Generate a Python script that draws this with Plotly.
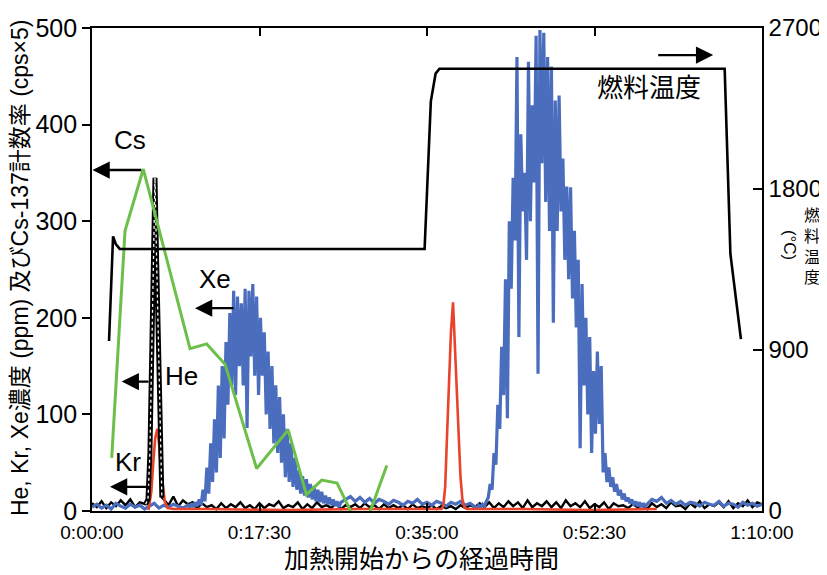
import plotly.graph_objects as go

# ---------------- data ----------------
X_TICK_VALS = [0, 17.5, 35, 52.5, 70]          # minutes
X_TICK_TEXT = ["0:00:00", "0:17:30", "0:35:00", "0:52:30", "1:10:00"]
LEFT_TICKS = [0, 100, 200, 300, 400, 500]
RIGHT_TICKS = [0, 900, 1800, 2700]

# fuel temperature (deg C, right axis)
TEMP_T = [1.78, 2.2, 2.5, 2.9, 34.75, 35.4, 35.9, 36.3, 66.1, 66.7, 67.8]
TEMP_V = [950, 1535, 1490, 1465, 1465, 2290, 2445, 2472, 2472, 1437, 961]

# Cs-137 count rate (cps x 5)
CS_T = [2.06, 3.45, 5.36, 10.24, 11.98, 13.9, 17.2, 20.5, 22.4, 24.0, 25.6, 28.2, 30.8]
CS_V = [55, 290, 354, 168, 173, 152, 44, 84, 17, 32, 29, -24, 47]

# Kr concentration (ppm)
KR_T = [5.9, 6.2, 6.4, 6.6, 6.82, 7.0, 7.2, 7.4, 7.6, 7.9, 8.5, 12.0, 20.0, 28.0, 36.5,
        36.7, 36.9, 37.1, 37.3, 37.5, 37.72, 37.9, 38.1, 38.3, 38.5, 38.7, 38.9, 39.2,
        45.0, 52.0, 59.0]
KR_V = [1, 20, 50, 75, 85, 70, 45, 25, 10, 3, 2, 2, 1, 2, 2,
        5, 25, 80, 140, 185, 216, 175, 125, 75, 35, 12, 4, 2,
        2, 1, 2]

# He concentration (ppm): baseline before peak (0.0-5.5 min, every 0.5 min)
HE_BASE_A = [8, 4, 10, 3, 9, 5, 11, 6, 12, 4, 9, 7]
HE_PEAK_T = [5.6, 5.85, 6.05, 6.25, 6.45, 6.58, 6.75, 6.95, 7.1, 7.3]
HE_PEAK_V = [7, 12, 60, 180, 300, 345, 260, 160, 93, 14]
# baseline after peak (7.5-70.0 min, every 0.5 min)
HE_BASE_B = [12, 6, 15, 5, 11, 7, 9, 3, 8, 4,
             6, 2, 8, 3, 7, 4, 9, 3, 6, 2,
             8, 3, 7, 5, 10, 3, 6, 4, 9, 2,
             7, 3, 9, 4, 6, 3, 8, 2, 6, 4,
             7, 3, 8, 4, 6, 2, 7, 3, 6, 3,
             6, 2, 7, 3, 5, 3, 6, 2, 5, 3,
             5, 2, 6, 3, 6, 4, 8, 4, 9, 3,
             8, 4, 10, 5, 9, 3, 11, 4, 8, 5,
             10, 4, 9, 3, 11, 5, 8, 4, 10, 3,
             7, 4, 9, 2, 8, 5, 6, 3, 7, 4,
             6, 2, 8, 4, 7, 3, 9, 5, 6, 2,
             8, 4, 10, 3, 7, 5, 9, 4, 10, 3,
             8, 5, 11, 4, 9, 7]

# Xe concentration (ppm)
XE_BASE_A = [4, 7, 3, 6, 2, 8, 5, 3, 7, 4, 6, 2, 5, 8, 3, 6, 4, 7, 5, 3]      # 0.0-9.5, step 0.5
XE_HUMP1 = [6, 3, 8, 4, 9, 5, 12, 6, 22, 10,                                     # 10.0-26.0, step 0.2
            45, 18, 70, 30, 95, 40, 130, 55, 150, 75,
            175, 110, 205, 130, 228, 120, 222, 150, 215, 130,
            230, 86, 228, 160, 235, 140, 222, 120, 200, 140,
            185, 100, 165, 85, 150, 70, 130, 60, 118, 50,
            100, 35, 85, 30, 70, 25, 55, 22, 42, 18,
            36, 16, 33, 14, 28, 12, 26, 10, 22, 9,
            20, 8, 16, 7, 14, 6, 12, 5, 10, 4,
            9]
XE_BASE_B = [12, 15, 10, 14, 9, 13, 8, 12, 10, 7, 11, 9, 6, 10,                  # 26.5-39.5, step 0.5
             8, 12, 7, 9, 6, 10, 8, 5, 9, 7, 10, 6, 8]
XE_HUMP2 = [5, 3, 6, 4, 7, 5, 10, 14, 28, 22,                                    # 40.0-58.0, step 0.2
            60, 48, 110, 85, 170, 120, 240, 96, 300, 230,
            345, 280, 470, 180, 390, 310, 350, 260, 465, 300,
            420, 340, 492, 142, 498, 360, 495, 320, 470, 290,
            460, 195, 425, 290, 430, 310, 365, 260, 336, 240,
            335, 220, 290, 190, 260, 65, 235, 130, 200, 100,
            180, 60, 145, 80, 165, 90, 150, 40, 60, 30,
            45, 25, 35, 20, 28, 16, 22, 12, 18, 10,
            14, 8, 12, 6, 10, 5, 9, 4, 8, 5,
            7]
XE_BASE_C = [12, 10, 14, 8, 11, 7, 10, 6, 9, 8, 5, 9, 7, 6, 10, 5,             # 58.5-70.0, step 0.5
             8, 7, 4, 9, 6, 8, 5, 7]


def seg_times(start, step, values):
    return [round(start + i * step, 3) for i in range(len(values))]


xe_t = (seg_times(0.0, 0.5, XE_BASE_A) + seg_times(10.0, 0.2, XE_HUMP1) +
        seg_times(26.5, 0.5, XE_BASE_B) + seg_times(40.0, 0.2, XE_HUMP2) +
        seg_times(58.5, 0.5, XE_BASE_C))
xe_v = XE_BASE_A + XE_HUMP1 + XE_BASE_B + XE_HUMP2 + XE_BASE_C

he_t = seg_times(0.0, 0.5, HE_BASE_A) + HE_PEAK_T + seg_times(7.5, 0.5, HE_BASE_B)
he_v = HE_BASE_A + HE_PEAK_V + HE_BASE_B

# ---------------- styles ----------------
SANS = "Liberation Sans, Arial, sans-serif"
CJK = "Noto Sans CJK JP, Noto Sans, sans-serif"
MIXED = "Liberation Sans, Noto Sans CJK JP, sans-serif"
BLUE = "#4a6dbd"
RED = "#e8432b"
GREEN = "#6cc04a"

fig = go.Figure()
fig.add_trace(go.Scatter(x=he_t, y=he_v, mode="lines",
                         line=dict(color="black", width=2.4), hoverinfo="skip"))
fig.add_trace(go.Scatter(x=xe_t, y=xe_v, mode="lines",
                         line=dict(color=BLUE, width=3.2), hoverinfo="skip"))
fig.add_trace(go.Scatter(x=KR_T, y=KR_V, mode="lines",
                         line=dict(color=RED, width=2.6), hoverinfo="skip"))
fig.add_trace(go.Scatter(x=HE_PEAK_T, y=HE_PEAK_V, mode="lines",
                         line=dict(color="black", width=5), hoverinfo="skip"))
fig.add_trace(go.Scatter(x=HE_PEAK_T, y=HE_PEAK_V, mode="lines",
                         line=dict(color="white", width=1.3, dash="dot"), hoverinfo="skip"))
fig.add_trace(go.Scatter(x=CS_T, y=CS_V, mode="lines",
                         line=dict(color=GREEN, width=3), hoverinfo="skip"))
fig.add_trace(go.Scatter(x=TEMP_T, y=TEMP_V, mode="lines", yaxis="y2",
                         line=dict(color="black", width=2.6), hoverinfo="skip"))

annotations = []
# text labels
for txt, tx, ty in [("Cs", 4.0, 384), ("Xe", 12.8, 240), ("He", 9.4, 140), ("Kr", 3.76, 51)]:
    annotations.append(dict(x=tx, y=ty, xref="x", yref="y", text=txt, showarrow=False,
                            font=dict(family=SANS, size=26, color="black"),
                            xanchor="center", yanchor="middle"))
annotations.append(dict(x=58.2, y=440, xref="x", yref="y", text="燃料温度", showarrow=False,
                        font=dict(family=CJK, size=26, color="black"),
                        xanchor="center", yanchor="middle"))
# arrows (head -> tail)
for hx, tx, ay in [(0.05, 5.3, 353), (10.76, 14.95, 210), (3.1, 6.06, 134), (1.88, 6.27, 25), (64.9, 59.0, 472)]:
    annotations.append(dict(x=hx, y=ay, ax=tx, ay=ay, xref="x", yref="y", axref="x", ayref="y",
                            text="", showarrow=True, arrowhead=2, arrowsize=1.5,
                            arrowwidth=2.3, arrowcolor="black"))
# axis titles
annotations.append(dict(x=-0.1075, y=0.505, xref="paper", yref="paper",
                        text="He, Kr, Xe濃度 (ppm) 及びCs-137計数率 (cps×5)",
                        textangle=-90, showarrow=False,
                        font=dict(family=MIXED, size=23, color="black"),
                        xanchor="center", yanchor="middle"))
annotations.append(dict(x=0.4925, y=-0.095, xref="paper", yref="paper",
                        text="加熱開始からの経過時間", showarrow=False,
                        font=dict(family=CJK, size=25, color="black"),
                        xanchor="center", yanchor="middle"))
# right title: vertical writing
annotations.append(dict(x=1.075, y=0.55, xref="paper", yref="paper",
                        text="燃<br>料<br>温<br>度", showarrow=False,
                        font=dict(family=CJK, size=16, color="black"),
                        xanchor="center", yanchor="middle"))
annotations.append(dict(x=1.041, y=0.55, xref="paper", yref="paper", text="(°C)",
                        textangle=90, showarrow=False,
                        font=dict(family=SANS, size=17, color="black"),
                        xanchor="center", yanchor="middle"))

# the page body has an 8px margin, so the figure is drawn 8px smaller and offset
fig.update_layout(
    width=819, height=567,
    margin=dict(l=84, r=65, t=20, b=64),
    plot_bgcolor="white", paper_bgcolor="white",
    showlegend=False,
    annotations=annotations,
    xaxis=dict(range=[0, 70], tickvals=X_TICK_VALS, ticktext=X_TICK_TEXT,
               ticks="inside", ticklen=8, tickwidth=1.5, tickcolor="black",
               showline=True, linecolor="black", linewidth=1.6, mirror="ticks",
               showgrid=False, zeroline=False, ticklabelstandoff=3, automargin=False,
               tickfont=dict(family=SANS, size=19, color="black")),
    yaxis=dict(range=[0, 500], tickvals=LEFT_TICKS, ticks="outside", ticklen=8,
               tickwidth=1.5, tickcolor="black", showline=True, linecolor="black",
               linewidth=1.6, mirror=True, showgrid=False, zeroline=False, automargin=False,
               tickfont=dict(family=SANS, size=25, color="black")),
    yaxis2=dict(range=[0, 2700], tickvals=RIGHT_TICKS, overlaying="y", side="right",
                ticks="inside", ticklen=9, tickwidth=1.5, tickcolor="black",
                showline=True, linecolor="black", linewidth=1.6, automargin=False,
                showgrid=False, zeroline=False, ticklabelstandoff=0,
                tickfont=dict(family=SANS, size=24, color="black")),
)

fig.write_html("out.html")
